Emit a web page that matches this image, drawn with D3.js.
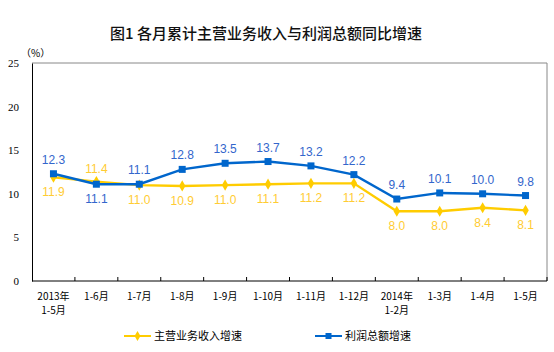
<!DOCTYPE html>
<html>
<head>
<meta charset="utf-8">
<script src="https://cdnjs.cloudflare.com/ajax/libs/d3/7.8.5/d3.min.js"></script>
<style>
    body { margin: 0; background: #fff; }
    text { font-family: "Liberation Sans", "Noto Sans CJK SC", sans-serif; }
</style>
</head>
<body>
<div id="chart"></div>
<script>
    var categories = ["2013年|1-5月", "1-6月", "1-7月", "1-8月", "1-9月", "1-10月",
                      "1-11月", "1-12月", "2014年|1-2月", "1-3月", "1-4月", "1-5月"];
    var revenue = [11.9, 11.4, 11.0, 10.9, 11.0, 11.1, 11.2, 11.2, 8.0, 8.0, 8.4, 8.1];
    var profit  = [12.3, 11.1, 11.1, 12.8, 13.5, 13.7, 13.2, 12.2, 9.4, 10.1, 10.0, 9.8];
    var yTicks = [0, 5, 10, 15, 20, 25];
    var seriesNames = ["主营业务收入增速", "利润总额增速"];

    var width = 554, height = 352;
    var plotL = 32, plotR = 547, plotT = 63, plotB = 281;
    var cjk = '"Noto Sans CJK SC", sans-serif';

    var x = d3.scaleBand().domain(d3.range(categories.length)).range([plotL, plotR]);
    var y = d3.scaleLinear().domain([0, 25]).range([plotB, plotT]);

    var svg = d3.select("#chart").append("svg")
        .attr("width", width)
        .attr("height", height);

    // title
    svg.append("text")
        .attr("x", 266).attr("y", 39)
        .attr("text-anchor", "middle")
        .style("font-family", cjk)
        .style("font-size", "15px")
        .style("font-weight", "500")
        .attr("fill", "#111")
        .text("图1  各月累计主营业务收入与利润总额同比增速");

    svg.append("text")
        .attr("x", 21).attr("y", 57)
        .style("font-family", cjk)
        .style("font-size", "10px")
        .text("（%）");

    // frame (top & right gray)
    svg.append("path")
        .attr("d", "M" + plotL + "," + plotT + "H" + plotR + "V" + plotB)
        .attr("fill", "none").attr("stroke", "#888").attr("stroke-width", 1);

    // y axis
    var yAxis = svg.append("g")
        .attr("transform", "translate(" + plotL + ",0)")
        .call(d3.axisLeft(y).tickValues(yTicks).tickSize(0).tickPadding(13));
    yAxis.select(".domain").attr("stroke", "#000");
    yAxis.selectAll("text")
        .style("font-family", '"Liberation Serif", serif')
        .style("font-size", "11px")
        .attr("fill", "#000");

    // x axis with ticks between categories
    svg.append("line")
        .attr("x1", plotL).attr("x2", plotR)
        .attr("y1", plotB).attr("y2", plotB)
        .attr("stroke", "#000");
    svg.selectAll(".xtick")
        .data(d3.range(1, categories.length + 1))
        .enter().append("line")
        .attr("x1", function(d) { return plotL + d * x.bandwidth(); })
        .attr("x2", function(d) { return plotL + d * x.bandwidth(); })
        .attr("y1", plotB).attr("y2", plotB - 4)
        .attr("stroke", "#000");

    var xl = svg.selectAll(".xlabel")
        .data(categories)
        .enter().append("text")
        .attr("text-anchor", "middle")
        .attr("y", 300)
        .style("font-family", cjk)
        .style("font-size", "10px");
    xl.each(function(d, i) {
        var parts = d.split("|");
        var t = d3.select(this);
        parts.forEach(function(p, j) {
            t.append("tspan")
                .attr("x", x(i) + x.bandwidth() / 2)
                .attr("dy", j ? 14 : 0)
                .text(p);
        });
    });

    var cx = function(d, i) { return x(i) + x.bandwidth() / 2; };
    var line = d3.line().x(cx).y(function(d) { return y(d); });

    var yellow = "#ffcc00", blue = "#0066cc";

    // revenue line
    svg.append("path").datum(revenue)
        .attr("d", line).attr("fill", "none")
        .attr("stroke", yellow).attr("stroke-width", 2.4);
    svg.selectAll(".rev")
        .data(revenue).enter().append("path")
        .attr("transform", function(d, i) { return "translate(" + cx(d, i) + "," + y(d) + ")"; })
        .attr("d", d3.symbol().type(d3.symbolDiamond).size(36))
        .attr("fill", yellow);

    // profit line
    svg.append("path").datum(profit)
        .attr("d", line).attr("fill", "none")
        .attr("stroke", blue).attr("stroke-width", 2.4);
    svg.selectAll(".pro")
        .data(profit).enter().append("rect")
        .attr("x", function(d, i) { return cx(d, i) - 3.5; })
        .attr("y", function(d) { return y(d) - 3.5; })
        .attr("width", 7).attr("height", 7)
        .attr("fill", blue);

    // value labels
    svg.selectAll(".revlab")
        .data(revenue).enter().append("text")
        .attr("x", cx)
        .attr("y", function(d, i) { return i === 1 ? y(d) - 9 : y(d) + 19; })
        .attr("text-anchor", "middle")
        .style("font-size", "12px")
        .attr("fill", "#ffcc33")
        .text(function(d) { return d.toFixed(1); });

    svg.selectAll(".prolab")
        .data(profit).enter().append("text")
        .attr("x", cx)
        .attr("y", function(d, i) { return i === 1 ? y(d) + 19 : y(d) - 10; })
        .attr("text-anchor", "middle")
        .style("font-size", "12px")
        .attr("fill", "#3366cc")
        .text(function(d) { return d.toFixed(1); });

    // legend
    var legend = [{ x: 124, c: yellow, t: "diamond" }, { x: 315, c: blue, t: "square" }];
    legend.forEach(function(l, i) {
        var g = svg.append("g").attr("transform", "translate(" + l.x + ",336)");
        g.append("line").attr("x1", 0).attr("x2", 27).attr("stroke", l.c).attr("stroke-width", 2);
        if (l.t === "diamond") {
            g.append("path").attr("transform", "translate(13.5,0)")
                .attr("d", d3.symbol().type(d3.symbolDiamond).size(30)).attr("fill", l.c);
        } else {
            g.append("rect").attr("x", 10.5).attr("y", -3).attr("width", 6).attr("height", 6).attr("fill", l.c);
        }
        g.append("text").attr("x", 30).attr("y", 4)
            .style("font-family", cjk).style("font-size", "11px")
            .text(seriesNames[i]);
    });
</script>
</body>
</html>
